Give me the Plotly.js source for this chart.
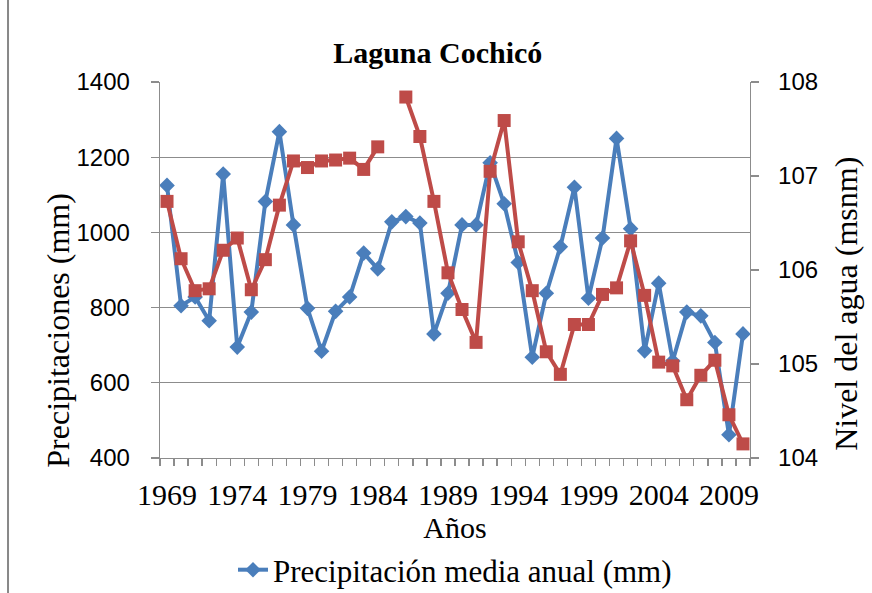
<!DOCTYPE html>
<html>
<head>
<meta charset="utf-8">
<script src="https://cdn.plot.ly/plotly-3.0.1.min.js"></script>
<style>html,body{margin:0;padding:0;background:#fff;}#chart{width:872px;height:593px;}</style>
</head>
<body>
<div id="chart"></div>
<script>
const years = [1969,1970,1971,1972,1973,1974,1975,1976,1977,1978,1979,1980,1981,1982,1983,1984,1985,1986,1987,1988,1989,1990,1991,1992,1993,1994,1995,1996,1997,1998,1999,2000,2001,2002,2003,2004,2005,2006,2007,2008,2009,2010];
const precipitacion = [1125,805,828,765,1155,695,788,1082,1268,1020,798,684,790,828,945,903,1028,1042,1025,730,838,1020,1020,1185,1076,920,668,838,962,1120,825,985,1250,1010,685,865,658,788,778,707,462,730];
const nivelAgua = [106.73,106.12,105.78,105.80,106.21,106.34,105.79,106.11,106.69,107.16,107.09,107.16,107.17,107.19,107.07,107.31,null,107.84,107.42,106.73,105.97,105.58,105.23,107.05,107.59,106.30,105.78,105.13,104.89,105.42,105.42,105.74,105.81,106.31,105.73,105.02,104.98,104.62,104.88,105.04,104.46,104.15];
const xTickVals = [1969,1974,1979,1984,1989,1994,1999,2004,2009];
const xTickText = ['1969','1974','1979','1984','1989','1994','1999','2004','2009'];
const seriesNames = ['Precipitación media anual (mm)','Nivel del agua (msnm)'];

const serif = 'Liberation Serif, Times New Roman, serif';
const sans = 'Liberation Sans, Arial, sans-serif';
const gridC = '#8c8c8c';

const traces = [
  {x: years, y: precipitacion, name: seriesNames[0], type: 'scatter', mode: 'lines+markers',
   line: {color: '#4a7ebb', width: 4}, marker: {symbol: 'diamond', size: 12, color: '#4a7ebb'},
   yaxis: 'y', showlegend: true},
  {x: years, y: nivelAgua, name: seriesNames[1], type: 'scatter', mode: 'lines+markers',
   line: {color: '#be4b48', width: 4}, marker: {symbol: 'square', size: 13, color: '#be4b48'},
   yaxis: 'y2', connectgaps: false, showlegend: false}
];

const layout = {
  width: 872, height: 593,
  margin: {l: 160, r: 122, t: 82, b: 135, autoexpand: false},
  paper_bgcolor: '#fff', plot_bgcolor: '#fff',
  title: {text: 'Laguna Cochicó', font: {family: serif, size: 30, color: '#000', weight: 'bold'},
          x: 0.502, xref: 'container', y: 0.912, yref: 'container', yanchor: 'middle', automargin: false},
  xaxis: {range: [1968.5, 2010.5], tickvals: xTickVals, ticktext: xTickText, ticks: '', automargin: false,
          showgrid: false, zeroline: false, showline: true, linecolor: gridC, linewidth: 1.3,
          tickfont: {family: serif, size: 30, color: '#000'}, ticklabelstandoff: 10,
          minor: {tick0: 1968.5, dtick: 1, ticks: 'outside', ticklen: 7, tickcolor: gridC, tickwidth: 1.3, showgrid: false},
          title: {text: 'Años', font: {family: serif, size: 30, color: '#000'}, standoff: 0}},
  yaxis: {range: [400, 1400], tick0: 400, dtick: 200, ticks: 'outside', ticklen: 8, tickcolor: gridC, tickwidth: 1.3,
          showgrid: true, gridcolor: gridC, gridwidth: 1.3, zeroline: false, showline: true, linecolor: gridC, linewidth: 1.3,
          tickfont: {family: sans, size: 24, color: '#000'}, ticklabelstandoff: 16, automargin: false},
  yaxis2: {overlaying: 'y', side: 'right', range: [104, 108], tick0: 104, dtick: 1, ticks: 'outside', ticklen: 8,
           tickcolor: gridC, tickwidth: 1.3, showgrid: false, zeroline: false, showline: true, linecolor: gridC, linewidth: 1.3,
           tickfont: {family: sans, size: 24, color: '#000'}, ticklabelstandoff: 14, automargin: false},
  showlegend: true,
  legend: {orientation: 'h', x: 0.5, xanchor: 'center', y: -0.298, yanchor: 'middle',
           font: {family: serif, size: 31, color: '#000'}, bgcolor: 'rgba(0,0,0,0)'},
  annotations: [
    {text: 'Precipitaciones (mm)', xref: 'paper', yref: 'paper', x: -0.172, y: 0.34, textangle: -90,
     showarrow: false, xanchor: 'center', yanchor: 'middle', font: {family: serif, size: 32, color: '#000'}},
    {text: 'Nivel del agua (msnm)', xref: 'paper', yref: 'paper', x: 1.1627, y: 0.41, textangle: -90,
     showarrow: false, xanchor: 'center', yanchor: 'middle', font: {family: serif, size: 32, color: '#000'}}
  ],
  shapes: [
    {type: 'line', xref: 'paper', yref: 'paper', x0: -0.2576, x1: -0.2576, y0: -0.37, y1: 1.23,
     line: {color: '#888', width: 2}}
  ]
};

Plotly.newPlot('chart', traces, layout, {displayModeBar: false, staticPlot: true});
</script>
</body>
</html>
